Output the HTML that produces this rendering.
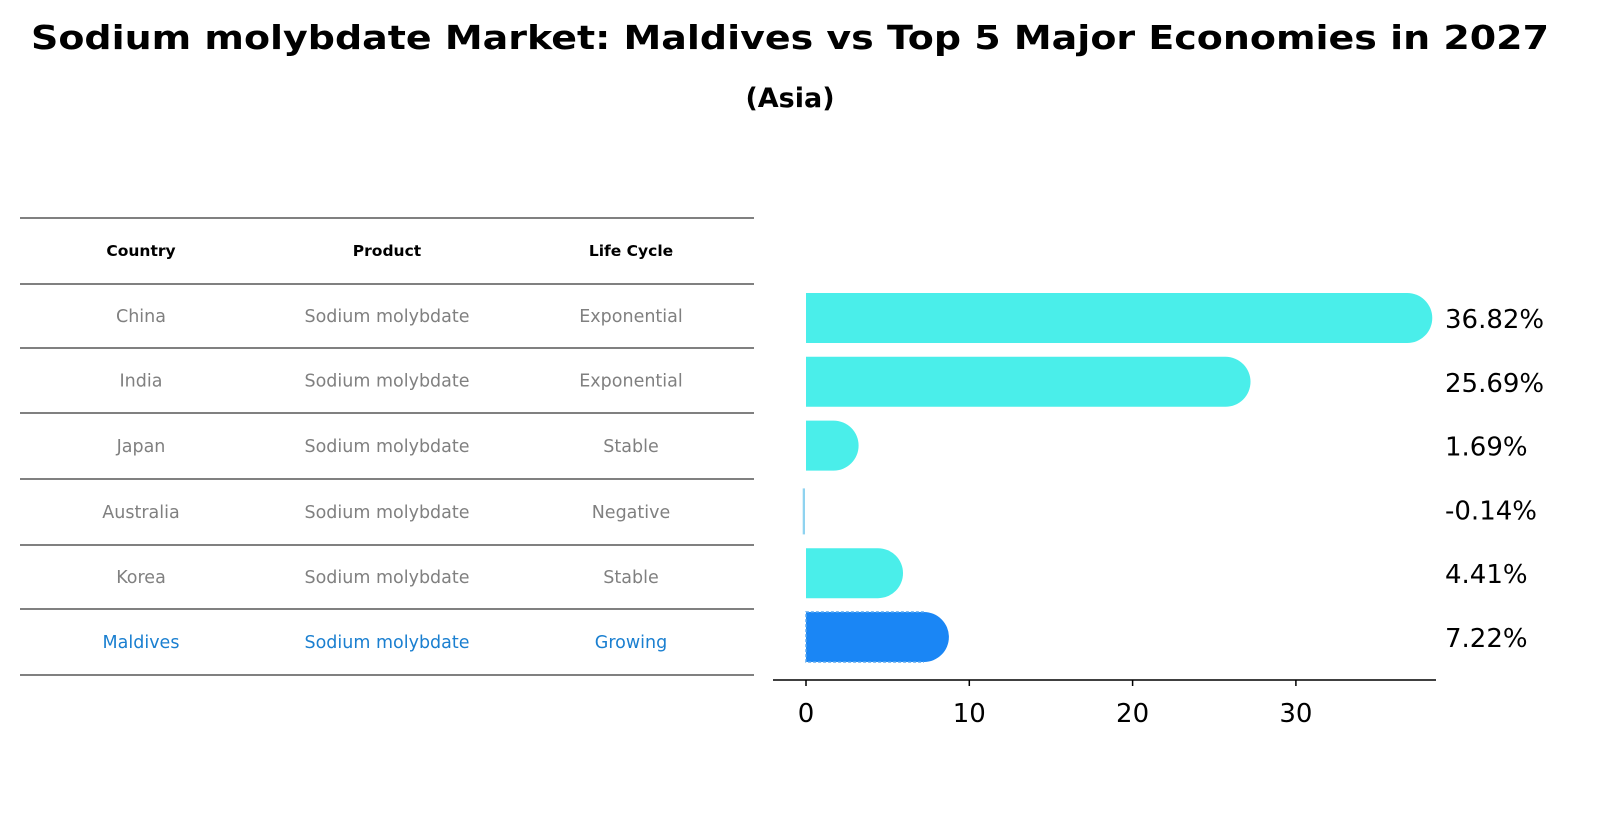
<!DOCTYPE html>
<html><head><meta charset="utf-8"><style>
html,body{margin:0;padding:0;background:#fff;overflow:hidden;width:1604px;height:823px;}
svg{display:block;}
</style></head><body>
<svg width="1604" height="823" viewBox="0 0 1604 823" xmlns="http://www.w3.org/2000/svg" font-family="DejaVu Sans, Liberation Sans, sans-serif">
<text x="790" y="49" text-anchor="middle" font-size="33" font-weight="bold" textLength="1518" lengthAdjust="spacingAndGlyphs">Sodium molybdate Market: Maldives vs Top 5 Major Economies in 2027</text>
<text x="790" y="107" text-anchor="middle" font-size="27" font-weight="bold">(Asia)</text>
<g id="table"></g>
<g id="bars"></g>
</svg>
<script>
const countries=["China","India","Japan","Australia","Korea","Maldives"];
const lifeCycles=["Exponential","Exponential","Stable","Negative","Stable","Growing"];
const values=[36.82,25.69,1.69,-0.14,4.41,7.22];
const xTicks=[0,10,20,30];
const NS="http://www.w3.org/2000/svg";
function mk(tag,attrs,parent,text){const e=document.createElementNS(NS,tag);for(const k in attrs)e.setAttribute(k,attrs[k]);if(text!==undefined)e.textContent=text;parent.appendChild(e);return e;}
const tbl=document.getElementById('table');
const rowY=[218,284,348,413,479,545,609,675];
const colX=[141,387,631];
rowY.forEach(y=>{const l=mk('line',{x1:20,x2:754,y1:y,y2:y,stroke:'#000','stroke-width':1},tbl);

});
["Country","Product","Life Cycle"].forEach((h,i)=>{const t=mk('text',{x:colX[i],y:256,'text-anchor':'middle','font-size':15.5,'font-weight':'bold'},tbl,h);

});
countries.forEach((c,r)=>{const y=(rowY[r+1]+rowY[r+2])/2+6;const col=c==="Maldives"?'#1a7fd0':'#808080';
[c,"Sodium molybdate",lifeCycles[r]].forEach((v,i)=>{const t=mk('text',{x:colX[i],y:y,'text-anchor':'middle','font-size':17.5,fill:col},tbl,v);

});});
const g=document.getElementById('bars');
const x0=806,ppu=16.33;const xs=v=>x0+v*ppu;
const cy0=318,step=63.8,bh=50,rad=25;
values.forEach((v,i)=>{const cy=cy0+i*step;let el;
if(v<0){el=mk('rect',{x:xs(v)-1,y:cy-bh/2+4,width:Math.max(2,(x0-xs(v))),height:bh-4,fill:'#8fd3f0'},g);}
else{const xe=xs(v);const fill=i===5?'#1a86f5':'#4aeeea';
el=mk('path',{d:`M${x0},${cy-bh/2} L${xe},${cy-bh/2} A${rad},${rad} 0 0 1 ${xe},${cy+bh/2} L${x0},${cy+bh/2} Z`,fill:fill},g);
if(i===5){const o=mk('path',{d:`M${xe},${cy-bh/2} L${x0},${cy-bh/2} L${x0},${cy+bh/2} L${xe},${cy+bh/2}`,fill:'none',stroke:'#5aa8f0','stroke-width':1.5,'stroke-dasharray':'3,2'},g);

}}


const t=mk('text',{x:1445,y:cy+10,'font-size':26},g,values[i].toFixed(2)+'%');

});
const ax=mk('line',{x1:773,x2:1436,y1:680,y2:680,stroke:'#000','stroke-width':1.5},g);


xTicks.forEach(v=>{const tk=mk('line',{x1:xs(v),x2:xs(v),y1:680,y2:686,stroke:'#000','stroke-width':1.5},g);


const t=mk('text',{x:xs(v),y:722,'text-anchor':'middle','font-size':26},g,String(v));

});
</script>
</body></html>
